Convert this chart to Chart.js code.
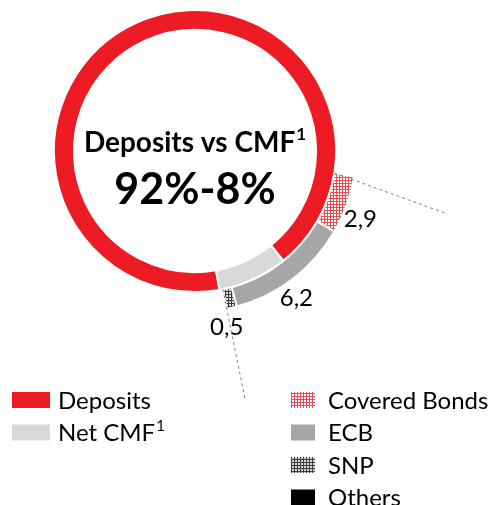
<!DOCTYPE html>
<html>
<head>
<meta charset="utf-8">
<script src="https://cdn.jsdelivr.net/npm/chart.js@4.4.1/dist/chart.umd.min.js"></script>
<style>
  html, body { margin: 0; padding: 0; background: #fff; }
  #wrap { position: relative; width: 493px; height: 505px; }
</style>
</head>
<body>
<div id="wrap"><canvas id="fundingChart"></canvas></div>
<script>
// funding mix (inner ring) and CMF breakdown (outer arc)
const fundingLabels = ['Deposits', 'Net CMF'];
const fundingShare = [92, 8];
const cmfLabels = ['Covered Bonds', 'ECB', 'SNP', 'Others'];
const cmfValues = [2.9, 6.2, 0.5, 0];
const headline = 'Deposits vs CMF';
const headlineValue = '92%-8%';

const FONT = 'Lato, "Open Sans", sans-serif';
const DEG_PER_UNIT = 7.25; // sweep of the breakdown arc per unit

// small dotted grid fill: lattice colour with light cells
function grid(line, cell) {
    const c = document.createElement('canvas');
    c.width = c.height = 3;
    const g = c.getContext('2d');
    g.fillStyle = line; g.fillRect(0, 0, 3, 3);
    g.fillStyle = cell; g.fillRect(1, 1, 2, 2);
    return g.createPattern(c, 'repeat');
}

const fundingColors = ['#ed1c24', '#d9d9d9'];
const cmfColors = [grid('#f04a51', '#ffffff'), '#a6a6a6', grid('#3c3c3c', '#d8d8d8'), '#000000'];

const cmfTotal = cmfValues.reduce((a, b) => a + b, 0);

const overlay = {
    id: 'overlay',
    afterDatasetsDraw(chart) {
        const ctx = chart.ctx;
        const outer = chart.getDatasetMeta(0).data;
        const cx = outer[0].x, cy = outer[0].y;

        // value labels beside the breakdown arcs
        ctx.save();
        ctx.fillStyle = '#000';
        ctx.font = '24px ' + FONT;
        ctx.textAlign = 'center';
        ctx.textBaseline = 'middle';
        outer.forEach((arc, i) => {
            if (!cmfValues[i]) return;
            const a = (arc.startAngle + arc.endAngle) / 2 + 3 * Math.PI / 180;
            const r = 179;
            ctx.fillText(cmfValues[i].toFixed(1).replace('.', ','), cx + Math.cos(a) * r, cy + Math.sin(a) * r);
        });
        ctx.restore();

        // dashed guides from the arc ends
        const first = outer[0];
        const last = outer[outer.length - 1];
        ctx.save();
        ctx.strokeStyle = '#808080';
        ctx.lineWidth = 1;
        ctx.setLineDash([3, 3]);
        ctx.beginPath();
        let a = first.startAngle;
        ctx.moveTo(cx + Math.cos(a) * first.innerRadius, cy + Math.sin(a) * first.innerRadius);
        a += 5 * Math.PI / 180;
        ctx.lineTo(cx + Math.cos(a) * 260, cy + Math.sin(a) * 260);
        a = last.endAngle;
        ctx.moveTo(cx + Math.cos(a) * last.innerRadius, cy + Math.sin(a) * last.innerRadius);
        ctx.lineTo(cx + Math.cos(a) * 252, cy + Math.sin(a) * 252);
        ctx.stroke();
        ctx.restore();

        // centre caption
        ctx.save();
        ctx.fillStyle = '#000';
        ctx.textBaseline = 'alphabetic';
        ctx.font = 'bold 28px ' + FONT;
        const w1 = ctx.measureText(headline).width;
        ctx.font = 'bold 17px ' + FONT;
        const w2 = ctx.measureText('1').width;
        let x = cx - (w1 + w2 + 1) / 2;
        ctx.font = 'bold 28px ' + FONT;
        ctx.textAlign = 'left';
        ctx.fillText(headline, x, 152);
        ctx.font = 'bold 17px ' + FONT;
        ctx.fillText('1', x + w1 + 1, 140);
        ctx.font = 'bold 43px ' + FONT;
        ctx.textAlign = 'center';
        ctx.fillText(headlineValue, cx, 204);
        ctx.restore();

        // legend: two columns
        ctx.save();
        ctx.textBaseline = 'middle';
        ctx.textAlign = 'left';
        fundingLabels.forEach((lbl, i) => {
            const y = 400 + i * 32.5;
            ctx.fillStyle = fundingColors[i];
            ctx.fillRect(12, y - 8, 38, 16);
            ctx.fillStyle = '#000';
            ctx.font = '24px ' + FONT;
            ctx.fillText(lbl, 58, y + 1);
            if (i === 1) {
                const w = ctx.measureText(lbl).width;
                ctx.font = '15px ' + FONT;
                ctx.fillText('1', 58 + w + 1, y - 6);
            }
        });
        cmfLabels.forEach((lbl, i) => {
            const y = 400 + i * 32.5;
            ctx.fillStyle = cmfColors[i];
            ctx.fillRect(291, y - 8, 24, 16);
            ctx.fillStyle = '#000';
            ctx.font = '24px ' + FONT;
            ctx.fillText(lbl, 328, y + 1);
        });
        ctx.restore();
    }
};

new Chart(document.getElementById('fundingChart'), {
    type: 'doughnut',
    data: {
        labels: cmfLabels,
        datasets: [{
            label: 'CMF breakdown',
            data: cmfValues,
            backgroundColor: cmfColors,
            borderColor: '#fff',
            borderWidth: 2,
            rotation: 99,
            circumference: cmfTotal * DEG_PER_UNIT
        }, {
            label: 'Funding',
            data: fundingShare,
            backgroundColor: fundingColors,
            borderColor: '#fff',
            borderWidth: 2,
            rotation: 170,
            circumference: 360
        }]
    },
    options: {
        responsive: true,
        maintainAspectRatio: false,
        animation: false,
        radius: 161,
        cutout: '75.2%',
        layout: { padding: { left: 0, right: 103, top: 0, bottom: 203 } },
        plugins: { legend: { display: false }, tooltip: { enabled: false } }
    },
    plugins: [overlay]
});
</script>
</body>
</html>
